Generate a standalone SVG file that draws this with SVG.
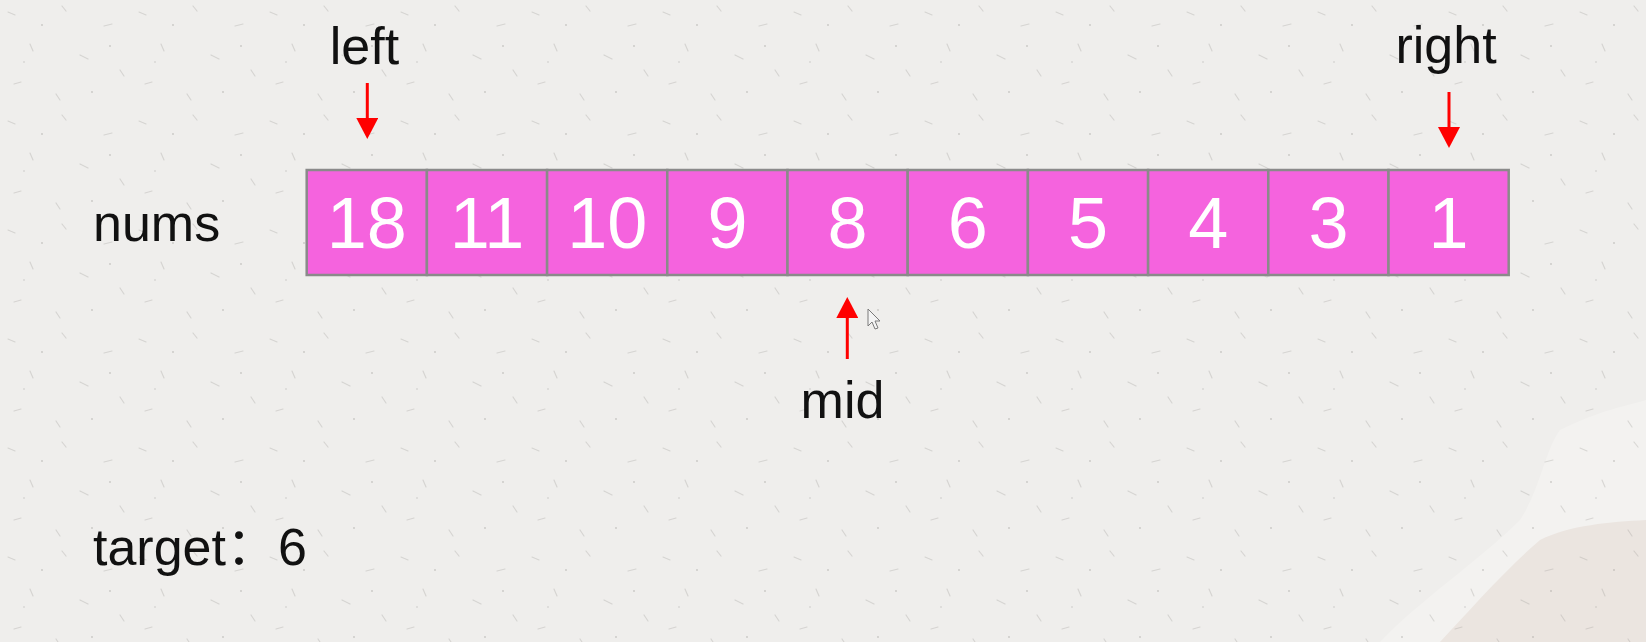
<svg xmlns="http://www.w3.org/2000/svg" width="1646" height="642" viewBox="0 0 1646 642">
  <defs>
    <style>
      .lbl { font-family: "Liberation Sans", "Noto Sans CJK SC", sans-serif; font-size: 52px; fill: #111; }
      .num { font-family: "Liberation Sans", sans-serif; font-size: 72px; fill: #ffffff; text-anchor: middle; }
      .cell { fill: #f563de; stroke: #8a8a8a; stroke-width: 2.5; }
      .ptr { stroke: #ff0000; stroke-width: 3; fill: none; }
      .speck { stroke: #9a9894; stroke-width: 1.2; stroke-linecap: round; opacity: 0.3; }
    </style>
    <marker id="head" viewBox="0 0 21 22" refX="0" refY="11" markerWidth="21" markerHeight="22" markerUnits="userSpaceOnUse" orient="auto">
      <path d="M0,0 L21,11 L0,22 Z" fill="#ff0000"/>
    </marker>
    <pattern id="paper" width="131" height="109" patternUnits="userSpaceOnUse">
      <line class="speck" x1="8" y1="12" x2="15" y2="15"/>
      <line class="speck" x1="62" y1="6" x2="66" y2="11"/>
      <line class="speck" x1="104" y1="26" x2="112" y2="24"/>
      <line class="speck" x1="30" y1="44" x2="33" y2="51"/>
      <line class="speck" x1="80" y1="55" x2="88" y2="59"/>
      <line class="speck" x1="120" y1="70" x2="124" y2="76"/>
      <line class="speck" x1="14" y1="84" x2="21" y2="82"/>
      <line class="speck" x1="56" y1="94" x2="60" y2="100"/>
      <circle cx="42" cy="25" r="0.9" fill="#8f8d89" opacity="0.4"/>
      <circle cx="110" cy="46" r="0.9" fill="#8f8d89" opacity="0.4"/>
      <circle cx="24" cy="62" r="0.8" fill="#8f8d89" opacity="0.4"/>
      <circle cx="92" cy="92" r="0.9" fill="#8f8d89" opacity="0.4"/>
    </pattern>
  </defs>

  <!-- background -->
  <rect x="0" y="0" width="1646" height="642" fill="#efeeec"/>
  <path d="M1560,430 C1600,410 1630,405 1646,400 L1646,642 L1380,642 C1420,600 1480,560 1520,520 C1540,490 1545,450 1560,430 Z" fill="#f3f2f0"/>
  <path d="M1540,540 C1570,525 1610,522 1646,520 L1646,642 L1440,642 C1470,610 1505,570 1540,540 Z" fill="#ebe5e0"/>
  <rect x="0" y="0" width="1646" height="642" fill="url(#paper)"/>

  <!-- labels -->
  <g id="label-nums"><text class="lbl" x="93" y="241">nums</text></g>
  <g id="label-target"><text class="lbl" x="93" y="565">target：6</text></g>

  <!-- array cells -->
  <g id="array">
    <g id="cell-0"><rect class="cell" x="306.7" y="170" width="120.2" height="105"/><text class="num" x="366.8" y="248">18</text></g>
    <g id="cell-1"><rect class="cell" x="426.9" y="170" width="120.2" height="105"/><text class="num" x="487" y="248">11</text></g>
    <g id="cell-2"><rect class="cell" x="547.1" y="170" width="120.2" height="105"/><text class="num" x="607.2" y="248">10</text></g>
    <g id="cell-3"><rect class="cell" x="667.3" y="170" width="120.2" height="105"/><text class="num" x="727.4" y="248">9</text></g>
    <g id="cell-4"><rect class="cell" x="787.5" y="170" width="120.2" height="105"/><text class="num" x="847.6" y="248">8</text></g>
    <g id="cell-5"><rect class="cell" x="907.7" y="170" width="120.2" height="105"/><text class="num" x="967.8" y="248">6</text></g>
    <g id="cell-6"><rect class="cell" x="1027.9" y="170" width="120.2" height="105"/><text class="num" x="1088" y="248">5</text></g>
    <g id="cell-7"><rect class="cell" x="1148.1" y="170" width="120.2" height="105"/><text class="num" x="1208.2" y="248">4</text></g>
    <g id="cell-8"><rect class="cell" x="1268.3" y="170" width="120.2" height="105"/><text class="num" x="1328.4" y="248">3</text></g>
    <g id="cell-9"><rect class="cell" x="1388.5" y="170" width="120.2" height="105"/><text class="num" x="1448.6" y="248">1</text></g>
  </g>

  <!-- pointer labels -->
  <g id="ptr-left"><text class="lbl" x="364.5" y="64" text-anchor="middle">left</text></g>
  <g id="ptr-right"><text class="lbl" x="1446" y="63" text-anchor="middle">right</text></g>
  <g id="ptr-mid"><text class="lbl" x="842.5" y="418" text-anchor="middle">mid</text></g>

  <!-- connectors -->
  <g id="connectors">
    <line class="ptr" x1="367.3" y1="83" x2="367.3" y2="118" marker-end="url(#head)"/>
    <line class="ptr" x1="1449" y1="92" x2="1449" y2="127" marker-end="url(#head)"/>
    <line class="ptr" x1="847.3" y1="359" x2="847.3" y2="318" marker-end="url(#head)"/>
  </g>

  <!-- mouse cursor -->
  <path d="M868,309 L868,326 L872,322 L875,329 L878,328 L875,321 L880,321 Z" fill="#f4f4f4" stroke="#7a7a7a" stroke-width="1"/>
</svg>
